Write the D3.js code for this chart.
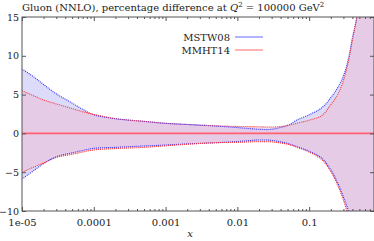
<!DOCTYPE html>
<html>
<head>
<meta charset="utf-8">
<script src="https://cdn.jsdelivr.net/npm/d3@7"></script>
<style>
  body { margin: 0; background: #fff; }
  svg { display: block; }
  text { font-family: "DejaVu Serif", serif; fill: #222; }
</style>
</head>
<body>
<div id="chart"></div>
<script>
// x grid and the four band edges (percentage difference)
const xs = [1e-5, 1.5e-5, 2e-5, 3e-5, 5e-5, 7e-5, 1e-4, 2e-4, 5e-4, 1e-3, 2e-3, 5e-3,
            0.01, 0.02, 0.03, 0.05, 0.07, 0.1, 0.15, 0.2, 0.25, 0.3, 0.35, 0.4, 0.45, 0.5, 0.6, 0.8];
const mstwUp = [8.3, 7.2, 6.3, 5.1, 3.9, 3.1, 2.4, 1.9, 1.55, 1.3, 1.15, 0.95,
                0.75, 0.53, 0.53, 1.05, 1.8, 2.4, 3.3, 4.6, 5.9, 7.4, 9.5, 12.3, 14.4, 17, 23, 35];
const mstwLo = [-5.9, -4.7, -3.9, -3.0, -2.5, -2.2, -1.92, -1.8, -1.62, -1.5, -1.35, -1.2,
                -1.05, -0.85, -0.9, -1.3, -1.75, -2.3, -3.2, -4.7, -6.4, -8.2, -9.9, -12, -14.5, -17, -23, -35];
const mmhtUp = [5.5, 4.8, 4.3, 3.8, 3.2, 2.8, 2.45, 1.9, 1.55, 1.3, 1.15, 0.98,
                0.9, 0.86, 0.82, 1.0, 1.35, 1.7, 2.3, 3.7, 5.0, 6.8, 9.2, 12, 14.5, 17, 23, 35];
const mmhtLo = [-5.0, -4.3, -3.8, -3.1, -2.7, -2.4, -2.14, -1.95, -1.8, -1.6, -1.4, -1.2,
                -1.15, -1.07, -1.1, -1.4, -1.85, -2.4, -3.4, -4.9, -6.7, -8.6, -10.7, -13, -15.5, -18, -24, -36];
const xTicks = [1e-5, 1e-4, 1e-3, 1e-2, 1e-1];
const xTickLabels = ["1e-05", "0.0001", "0.001", "0.01", "0.1"];
const yTicks = [-10, -5, 0, 5, 10, 15];

let margin = { top: 17, right: 0, bottom: 30, left: 22 },
    width = 374 - margin.left - margin.right,
    height = 241 - margin.top - margin.bottom;

let x = d3.scaleLog().domain([1e-5, 0.8]).range([0, width]);
let y = d3.scaleLinear().domain([-10, 15]).range([height, 0]);

let svg = d3.select("#chart").append("svg")
    .attr("width", 374)
    .attr("height", 241);

let g = svg.append("g")
    .attr("transform", "translate(" + margin.left + "," + margin.top + ")");

g.append("clipPath").attr("id", "clip")
  .append("rect").attr("width", width).attr("height", height);

const band = (up, lo) => d3.area()
    .x((d, i) => x(xs[i]))
    .y0((d, i) => y(lo[i]))
    .y1((d, i) => y(up[i]))
    .curve(d3.curveCatmullRom.alpha(0.5))(xs);

const edge = (vals) => d3.line()
    .x((d, i) => x(xs[i]))
    .y((d) => y(d))
    .curve(d3.curveCatmullRom.alpha(0.5))(vals);

let plot = g.append("g").attr("clip-path", "url(#clip)");

plot.append("path").attr("d", band(mstwUp, mstwLo)).attr("fill", "#dcdcfa");
plot.append("path").attr("d", band(mmhtUp, mmhtLo)).attr("fill", "rgb(235,192,220)").attr("fill-opacity", 0.62);

[mstwUp, mstwLo].forEach(v => {
  plot.append("path").attr("d", edge(v)).attr("fill", "none")
      .attr("stroke", "#3030ff").attr("stroke-width", 1.1).attr("stroke-dasharray", "1,1");
});
[mmhtUp, mmhtLo].forEach(v => {
  plot.append("path").attr("d", edge(v)).attr("fill", "none")
      .attr("stroke", "#ff3030").attr("stroke-width", 1.1).attr("stroke-dasharray", "1,1");
});

// zero line
plot.append("line")
    .attr("x1", 0).attr("x2", width)
    .attr("y1", y(0)).attr("y2", y(0))
    .attr("stroke", "#ff6070").attr("stroke-width", 1.6);

// minor x ticks
let minor = [];
for (let e = -5; e <= -1; e++) for (let m = 2; m <= 9; m++) {
  let v = m * Math.pow(10, e);
  if (v <= 0.8) minor.push(v);
}

const styleAxis = (sel) => {
  sel.select(".domain").remove();
  sel.selectAll("line").attr("stroke", "#555");
};
const styleText = (size) => (sel) => sel.selectAll("text")
  .attr("font-size", size).attr("font-family", "DejaVu Serif, serif").attr("fill", "#222");

g.append("g").attr("transform", "translate(0," + height + ")")
  .call(d3.axisBottom(x).tickValues(minor).tickSize(-2).tickFormat(""))
  .call(styleAxis);
g.append("g")
  .call(d3.axisTop(x).tickValues(minor).tickSize(-2).tickFormat(""))
  .call(styleAxis);
g.append("g").attr("transform", "translate(0," + height + ")")
  .call(d3.axisBottom(x).tickValues(xTicks).tickSize(-4).tickPadding(8)
        .tickFormat((d, i) => xTickLabels[i]))
  .call(styleAxis)
  .call(styleText(10));
g.append("g")
  .call(d3.axisTop(x).tickValues(xTicks).tickSize(-4).tickFormat(""))
  .call(styleAxis);
g.append("g")
  .call(d3.axisLeft(y).tickValues(yTicks).tickSize(-4).tickPadding(3))
  .call(styleAxis)
  .call(styleText(9.5));
g.append("g").attr("transform", "translate(" + width + ",0)")
  .call(d3.axisRight(y).tickValues(yTicks).tickSize(-4).tickFormat(""))
  .call(styleAxis);

// frame
g.append("rect").attr("width", width).attr("height", height)
  .attr("fill", "none").attr("stroke", "#555").attr("stroke-width", 1);

// legend
const legend = [["MSTW08", "#9a9aff"], ["MMHT14", "#ff9a9a"]];
legend.forEach((l, i) => {
  let ly = 37 + i * 13;
  svg.append("text").attr("x", 230).attr("y", ly + 4).attr("text-anchor", "end")
     .attr("font-size", 10).text(l[0]);
  svg.append("line").attr("x1", 235).attr("x2", 263).attr("y1", ly).attr("y2", ly)
     .attr("stroke", l[1]).attr("stroke-width", 1.5);
});

// title
let title = svg.append("text").attr("x", 22).attr("y", 10.5).attr("font-size", 10);
title.append("tspan").text("Gluon (NNLO), percentage difference at ");
title.append("tspan").attr("font-style", "italic").text("Q");
title.append("tspan").attr("font-size", 7).attr("dy", -4).text("2");
title.append("tspan").attr("dy", 4).text(" = 100000 GeV");
title.append("tspan").attr("font-size", 7).attr("dy", -4).text("2");

// x label
svg.append("text").attr("x", 190).attr("y", 237).attr("text-anchor", "middle")
   .attr("font-size", 10).attr("font-style", "italic").text("x");
</script>
</body>
</html>
